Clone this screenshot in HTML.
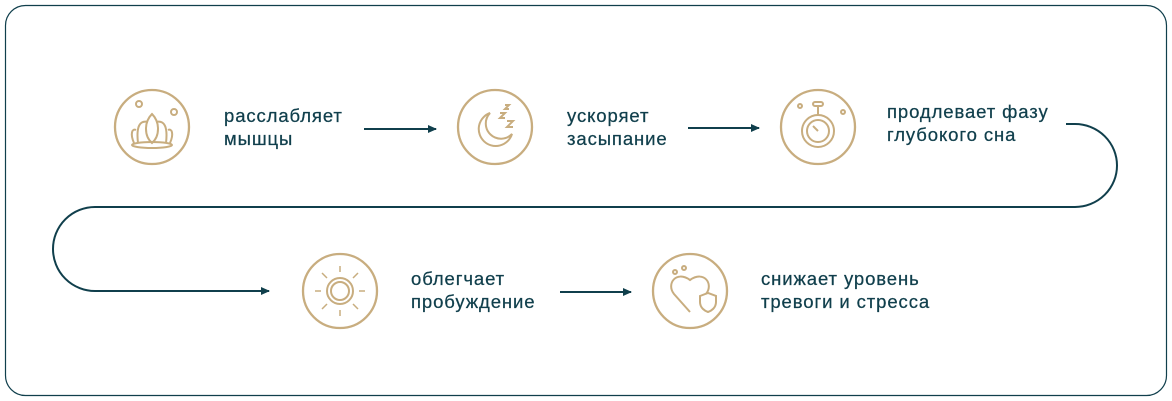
<!DOCTYPE html>
<html><head><meta charset="utf-8"><style>
body{margin:0;background:#fff;}
svg{display:block;}
text{font-family:"Liberation Sans",sans-serif;font-size:18.5px;letter-spacing:0.9px;fill:#103f4c;stroke:#103f4c;stroke-width:0.25px;}
</style></head><body>
<svg width="1172" height="401" viewBox="0 0 1172 401">
<defs><marker id="a" markerWidth="10" markerHeight="10" refX="8" refY="5" orient="auto" markerUnits="userSpaceOnUse"><path d="M0,1 L9,5 L0,9 Z" fill="#103f4c"/></marker></defs>
<rect x="5.5" y="5.5" width="1161" height="390" rx="20" fill="none" stroke="#103f4c" stroke-width="1.2"/>
<g stroke="#103f4c" stroke-width="2" fill="none">
<line x1="364" y1="129" x2="436" y2="129" marker-end="url(#a)"/>
<line x1="688" y1="128" x2="759" y2="128" marker-end="url(#a)"/>
<line x1="560" y1="292" x2="631" y2="292" marker-end="url(#a)"/>
<path d="M1066,124 L1075,124 A42,41.5 0 0 1 1075,207 L95,207 A42,42 0 0 0 95,291 L269,291" marker-end="url(#a)"/>
</g>
<g stroke="#c8ad7f" stroke-width="2.3" fill="none">
<circle cx="152" cy="127" r="37"/>
<circle cx="495" cy="127" r="37"/>
<circle cx="818" cy="127" r="37"/>
<circle cx="340" cy="291" r="37"/>
<circle cx="690" cy="291" r="37"/>
<g stroke-width="2">
<path d="M152,114 C144,122 144,136 152,143 C160,136 160,122 152,114Z"/>
<path d="M148,122 C140,120 136,126 138,143 M156,122 C164,120 168,126 166,143"/>
<path d="M136,130 C132,128 130,134 134,143 M168,130 C172,128 174,134 170,143"/>
<ellipse cx="152" cy="145" rx="20" ry="3"/>
<circle cx="139" cy="104" r="3"/><circle cx="174" cy="112" r="3"/>
<path d="M490,113 A17,17 0 1 0 512,134 A14,14 0 0 1 490,113Z"/>
<path d="M500,113 h5 l-5,5 h5 M507,121 h6 l-6,6 h6 M505,105 h4 l-4,4 h4"/>
<circle cx="818" cy="131" r="16"/><circle cx="818" cy="131" r="11"/>
<rect x="813" y="102" width="10" height="4" rx="2"/><line x1="818" y1="106" x2="818" y2="115"/>
<line x1="818" y1="131" x2="813" y2="126"/>
<circle cx="800" cy="106" r="2"/><circle cx="843" cy="112" r="2"/>
<circle cx="340" cy="291" r="9"/><circle cx="340" cy="291" r="13"/>
<g stroke-width="1.5">
<line x1="340" y1="272" x2="340" y2="266"/><line x1="340" y1="310" x2="340" y2="316"/>
<line x1="321" y1="291" x2="315" y2="291"/><line x1="359" y1="291" x2="365" y2="291"/>
<line x1="327" y1="278" x2="322" y2="273"/><line x1="353" y1="278" x2="358" y2="273"/>
<line x1="327" y1="304" x2="322" y2="309"/><line x1="353" y1="304" x2="358" y2="309"/>
</g>
<path d="M690,312 L674,294 C666,284 676,270 690,280 C704,270 714,284 706,294"/>
<path d="M700,296 l8,-3 l8,3 v6 c0,6 -5,9 -8,10 c-3,-1 -8,-4 -8,-10z"/>
<circle cx="675" cy="272" r="2"/><circle cx="684" cy="268" r="2"/>
</g>
</g>
<text x="224" y="122">расслабляет</text><text x="224" y="145">мышцы</text>
<text x="567" y="122">ускоряет</text><text x="567" y="145">засыпание</text>
<text x="887" y="118">продлевает фазу</text><text x="887" y="141">глубокого сна</text>
<text x="411" y="285">облегчает</text><text x="411" y="308">пробуждение</text>
<text x="761" y="285">снижает уровень</text><text x="761" y="308">тревоги и стресса</text>
</svg>
</body></html>
